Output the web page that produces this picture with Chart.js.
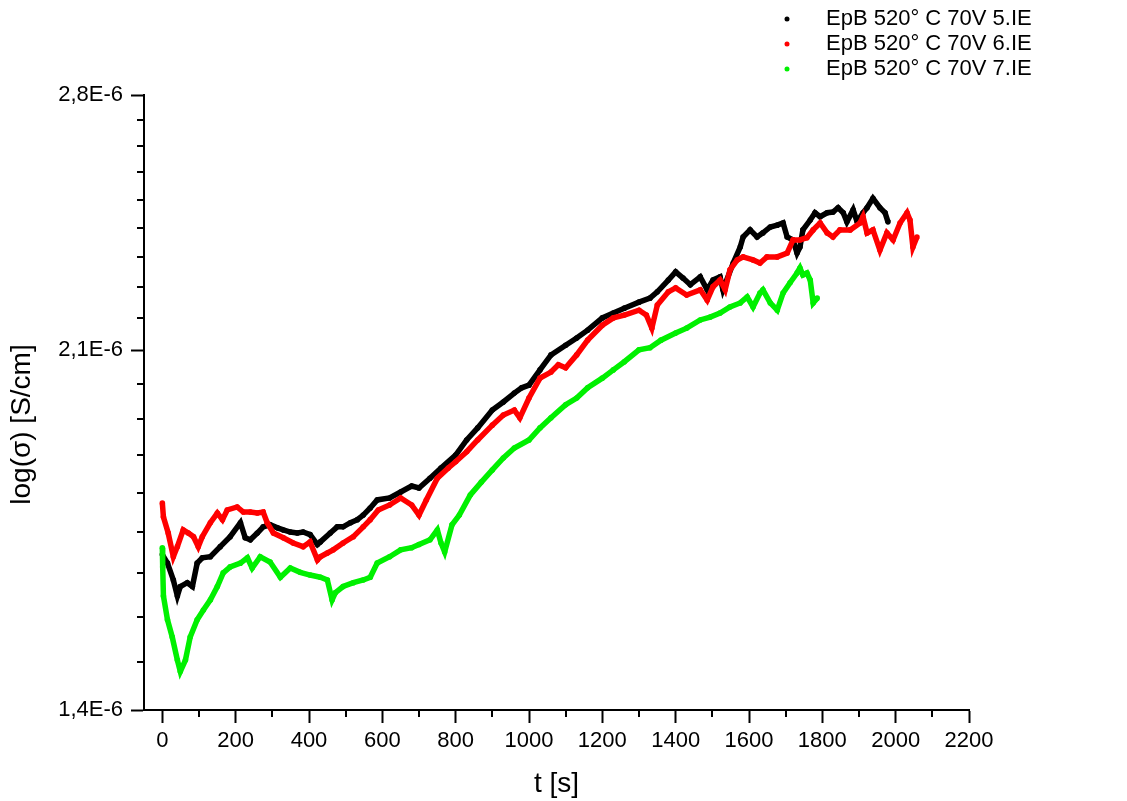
<!DOCTYPE html>
<html>
<head>
<meta charset="utf-8">
<title>EpB 520° C 70V</title>
<script src="https://cdn.jsdelivr.net/npm/chart.js@4/dist/chart.umd.min.js"></script>
<style>
  html, body { margin: 0; padding: 0; background: #fff; }
  #chart { display: block; }
</style>
</head>
<body>
<canvas id="chart" width="1127" height="801"></canvas>
<script>
// series labels and colours
const seriesLabels = ['EpB 520° C 70V 5.IE', 'EpB 520° C 70V 6.IE', 'EpB 520° C 70V 7.IE'];
const seriesColors = ['#000000', '#ff0000', '#00f000'];

// 5.IE : t [s] / sigma [1E-6 S/cm]
const t5 = [0, 14, 30, 41, 49, 68, 82, 95, 109, 131, 158, 185, 213, 226, 240, 259, 275, 294, 314, 330,
    349, 368, 384, 403, 423, 431, 458, 477, 493, 513, 532, 548, 567, 586, 620, 650, 680, 700, 730, 760,
    800, 830, 860, 900, 930, 960, 980, 1000, 1030, 1060, 1100, 1130, 1160, 1200, 1230, 1260, 1300, 1330, 1350, 1380,
    1400, 1420, 1440, 1467, 1486, 1502, 1521, 1529, 1557, 1576, 1584, 1603, 1622, 1638, 1658, 1677, 1693, 1704, 1720, 1731,
    1739, 1747, 1767, 1780, 1794, 1813, 1829, 1843, 1857, 1867, 1884, 1895, 1911, 1922, 1938, 1957, 1971, 1979];
const s5 = [1.668, 1.652, 1.621, 1.592, 1.609, 1.616, 1.609, 1.652, 1.662, 1.664,
    1.683, 1.702, 1.729, 1.700, 1.696, 1.709, 1.721, 1.725, 1.719, 1.715,
    1.711, 1.709, 1.711, 1.706, 1.687, 1.692, 1.709, 1.721, 1.721, 1.729,
    1.735, 1.744, 1.758, 1.774, 1.778, 1.790, 1.802, 1.798, 1.818, 1.839,
    1.866, 1.898, 1.924, 1.963, 1.981, 2.001, 2.013, 2.019, 2.054, 2.089,
    2.112, 2.129, 2.148, 2.178, 2.190, 2.202, 2.217, 2.227, 2.243, 2.273,
    2.294, 2.278, 2.261, 2.281, 2.248, 2.273, 2.281, 2.248, 2.317, 2.359,
    2.386, 2.405, 2.386, 2.397, 2.413, 2.418, 2.424, 2.386, 2.378, 2.343,
    2.359, 2.405, 2.432, 2.452, 2.441, 2.452, 2.454, 2.466, 2.452, 2.427,
    2.460, 2.427, 2.452, 2.466, 2.492, 2.466, 2.452, 2.427];

// 6.IE
const t6 = [0, 3, 16, 30, 41, 57, 71, 85, 98, 109, 131, 150, 164, 177, 204, 221, 240, 259, 275, 286,
    303, 330, 357, 384, 403, 423, 431, 450, 466, 493, 521, 548, 567, 589, 620, 650, 680, 700, 720, 750,
    780, 800, 830, 860, 900, 930, 960, 975, 1000, 1030, 1060, 1080, 1100, 1130, 1160, 1200, 1230, 1260, 1300, 1320,
    1335, 1350, 1380, 1400, 1430, 1467, 1486, 1502, 1521, 1535, 1548, 1568, 1584, 1611, 1630, 1649, 1677, 1704, 1720, 1739,
    1758, 1775, 1794, 1813, 1829, 1848, 1876, 1903, 1911, 1922, 1938, 1957, 1976, 1993, 2012, 2031, 2039, 2047, 2058];
const s6 = [1.768, 1.740, 1.709, 1.664, 1.683, 1.715, 1.709, 1.702, 1.683, 1.702,
    1.729, 1.748, 1.735, 1.754, 1.760, 1.750, 1.750, 1.748, 1.750, 1.729,
    1.709, 1.700, 1.690, 1.683, 1.692, 1.658, 1.664, 1.671, 1.677, 1.690,
    1.702, 1.721, 1.735, 1.754, 1.764, 1.778, 1.764, 1.744, 1.774, 1.818,
    1.839, 1.852, 1.873, 1.898, 1.930, 1.952, 1.963, 1.946, 1.990, 2.035,
    2.049, 2.066, 2.059, 2.089, 2.124, 2.160, 2.178, 2.185, 2.197, 2.185,
    2.153, 2.210, 2.243, 2.253, 2.235, 2.248, 2.222, 2.256, 2.273, 2.248,
    2.299, 2.325, 2.333, 2.325, 2.317, 2.333, 2.333, 2.343, 2.378, 2.378,
    2.384, 2.405, 2.424, 2.397, 2.386, 2.405, 2.405, 2.424, 2.441, 2.397,
    2.405, 2.351, 2.397, 2.378, 2.424, 2.452, 2.432, 2.359, 2.386];

// 7.IE
const t7 = [0, 1, 3, 14, 27, 41, 49, 63, 76, 95, 112, 131, 150, 166, 185, 213, 232, 245, 267, 294,
    322, 349, 376, 403, 431, 450, 463, 472, 493, 521, 548, 567, 586, 620, 650, 680, 700, 730, 750, 760,
    770, 790, 810, 840, 870, 900, 930, 960, 1000, 1030, 1060, 1100, 1130, 1160, 1200, 1230, 1260, 1300, 1330, 1360,
    1400, 1430, 1467, 1494, 1521, 1548, 1576, 1595, 1611, 1630, 1638, 1658, 1677, 1693, 1712, 1731, 1739, 1747, 1758, 1767,
    1775, 1786];
const s7 = [1.681, 1.645, 1.592, 1.550, 1.520, 1.481, 1.462, 1.481, 1.520, 1.550,
    1.567, 1.585, 1.609, 1.634, 1.645, 1.652, 1.662, 1.643, 1.664, 1.654,
    1.626, 1.643, 1.635, 1.630, 1.626, 1.621, 1.585, 1.598, 1.609, 1.616,
    1.621, 1.626, 1.652, 1.664, 1.677, 1.681, 1.687, 1.696, 1.715, 1.690,
    1.673, 1.725, 1.744, 1.784, 1.810, 1.835, 1.860, 1.881, 1.898, 1.924,
    1.946, 1.975, 1.990, 2.013, 2.035, 2.054, 2.073, 2.101, 2.106, 2.124,
    2.141, 2.153, 2.173, 2.180, 2.190, 2.205, 2.215, 2.230, 2.205, 2.240,
    2.248, 2.215, 2.197, 2.240, 2.266, 2.291, 2.304, 2.286, 2.291, 2.273,
    2.215, 2.227];

// axes
const xMin = -50;
const xMax = 2200;
const xMajorStep = 200;
const xMinorStep = 100;
const yMajorTicks = [1.4, 2.1, 2.8];
const yTickLabels = ['1,4E-6', '2,1E-6', '2,8E-6'];
const yMinorCount = 8;
const xTitle = 't [s]';
const yTitle = 'log(σ) [S/cm]';

const fontFamily = '"Liberation Sans", Arial, sans-serif';

function toPoints(ts, vs) {
    return ts.map((t, i) => ({ x: t, y: vs[i] }));
}

function yMajorIndex(v) {
    return yMajorTicks.findIndex(m => Math.abs(m - v) < 1e-9);
}

// short minor tick marks
const minorTickPlugin = {
    id: 'minorTicks',
    afterDraw(chart) {
        const ctx = chart.ctx;
        const xs = chart.scales.x;
        const ys = chart.scales.y;
        ctx.save();
        ctx.strokeStyle = '#000';
        ctx.lineWidth = 2;
        ctx.beginPath();
        xs.ticks.forEach(t => {
            if (t.major) return;
            const px = Math.round(xs.getPixelForValue(t.value));
            ctx.moveTo(px, xs.top);
            ctx.lineTo(px, xs.top + 7);
        });
        ys.ticks.forEach(t => {
            if (t.major) return;
            const py = Math.round(ys.getPixelForValue(t.value));
            ctx.moveTo(ys.right - 7, py);
            ctx.lineTo(ys.right, py);
        });
        ctx.stroke();
        ctx.restore();
    }
};

// y title, set a little below the axis middle
const yTitlePlugin = {
    id: 'yTitle',
    afterDraw(chart) {
        const ctx = chart.ctx;
        const ys = chart.scales.y;
        ctx.save();
        ctx.translate(22, (ys.top + ys.bottom) / 2 + 22);
        ctx.rotate(-Math.PI / 2);
        ctx.font = '28px ' + fontFamily;
        ctx.fillStyle = '#000';
        ctx.textAlign = 'center';
        ctx.textBaseline = 'middle';
        ctx.fillText(yTitle, 0, 0);
        ctx.restore();
    }
};

// legend in the upper right corner
const cornerLegendPlugin = {
    id: 'cornerLegend',
    afterDraw(chart) {
        const ctx = chart.ctx;
        ctx.save();
        ctx.font = '22px ' + fontFamily;
        ctx.textBaseline = 'middle';
        chart.data.datasets.forEach((ds, i) => {
            const y = 19 + i * 25;
            ctx.fillStyle = ds.borderColor;
            ctx.beginPath();
            ctx.arc(787, y, 2.5, 0, Math.PI * 2);
            ctx.fill();
            ctx.fillStyle = '#000';
            ctx.fillText(ds.label, 826, y);
        });
        ctx.restore();
    }
};

function createChart() {
    const sets = [[t5, s5], [t6, s6], [t7, s7]];
    const datasets = sets.map((s, i) => ({
        label: seriesLabels[i],
        data: toPoints(s[0], s[1]),
        showLine: true,
        borderColor: seriesColors[i],
        backgroundColor: seriesColors[i],
        borderWidth: 5.5,
        pointRadius: 2.8,
        pointBorderWidth: 0,
        order: 3 - i
    }));

    new Chart(document.getElementById('chart'), {
        type: 'scatter',
        data: { datasets },
        options: {
            responsive: false,
            animation: false,
            layout: { padding: { left: 0, top: 95, right: 158, bottom: 0 } },
            plugins: {
                legend: { display: false },
                tooltip: { enabled: false }
            },
            scales: {
                x: {
                    type: 'linear',
                    min: xMin,
                    max: xMax,
                    afterBuildTicks: axis => {
                        const ticks = [];
                        for (let v = 0; v <= xMax; v += xMinorStep) {
                            ticks.push({ value: v, major: v % xMajorStep === 0 });
                        }
                        axis.ticks = ticks;
                    },
                    afterFit: axis => { axis.height = 91; },
                    border: { color: '#000', width: 2 },
                    grid: {
                        drawOnChartArea: false,
                        tickLength: 13,
                        tickWidth: 2,
                        tickColor: c => (c.tick && c.tick.major ? '#000' : 'rgba(0,0,0,0)')
                    },
                    ticks: {
                        autoSkip: false,
                        maxRotation: 0,
                        padding: 5,
                        color: '#000',
                        font: { family: fontFamily, size: 22 },
                        callback: v => (v % xMajorStep === 0 ? String(v) : '')
                    },
                    title: {
                        display: true,
                        text: xTitle,
                        color: '#000',
                        font: { family: fontFamily, size: 28 },
                        padding: { top: 0, bottom: 0 }
                    }
                },
                y: {
                    type: 'logarithmic',
                    min: yMajorTicks[0],
                    max: yMajorTicks[yMajorTicks.length - 1],
                    afterBuildTicks: axis => {
                        const ticks = [];
                        for (let k = 0; k < yMajorTicks.length; k++) {
                            ticks.push({ value: yMajorTicks[k], major: true });
                            if (k === yMajorTicks.length - 1) break;
                            const step = (yMajorTicks[k + 1] - yMajorTicks[k]) / (yMinorCount + 1);
                            for (let j = 1; j <= yMinorCount; j++) {
                                ticks.push({ value: yMajorTicks[k] + j * step, major: false });
                            }
                        }
                        axis.ticks = ticks;
                    },
                    afterFit: axis => { axis.width = 144; },
                    border: { color: '#000', width: 2 },
                    grid: {
                        drawOnChartArea: false,
                        tickLength: 13,
                        tickWidth: 2,
                        tickColor: c => (c.tick && c.tick.major ? '#000' : 'rgba(0,0,0,0)')
                    },
                    ticks: {
                        autoSkip: false,
                        padding: 8,
                        color: '#000',
                        font: { family: fontFamily, size: 22 },
                        callback: v => {
                            const k = yMajorIndex(v);
                            return k >= 0 ? yTickLabels[k] : '';
                        }
                    },
                    title: { display: false }
                }
            }
        },
        plugins: [minorTickPlugin, yTitlePlugin, cornerLegendPlugin]
    });
}

document.addEventListener('DOMContentLoaded', () => {
    createChart();
});
</script>
</body>
</html>
